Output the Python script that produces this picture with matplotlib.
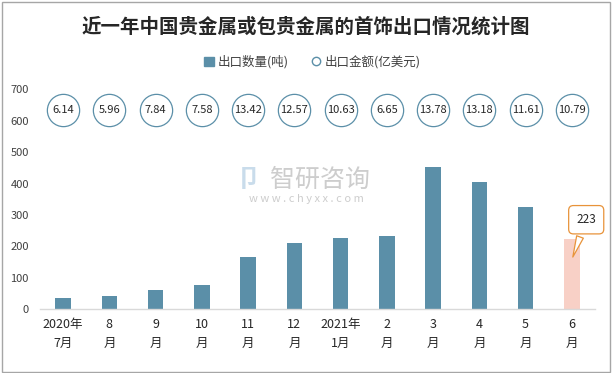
import matplotlib
matplotlib.use("Agg")
import matplotlib.pyplot as plt
from matplotlib.patches import Patch, Rectangle
from matplotlib.lines import Line2D

plt.rcParams['font.family'] = ['Noto Sans CJK SC', 'DejaVu Sans']

title = "近一年中国贵金属或包贵金属的首饰出口情况统计图"
categories = ["2020年\n7月", "8\n月", "9\n月", "10\n月", "11\n月", "12\n月",
              "2021年\n1月", "2\n月", "3\n月", "4\n月", "5\n月", "6\n月"]
export_volume = [36, 42, 62, 77, 167, 211, 227, 233, 453, 405, 326, 223]
export_value = [6.14, 5.96, 7.84, 7.58, 13.42, 12.57, 10.63, 6.65, 13.78, 13.18, 11.61, 10.79]
series_names = ["出口数量(吨)", "出口金额(亿美元)"]
y_ticks = [0, 100, 200, 300, 400, 500, 600, 700]

bar_color = "#5B8FA8"
last_color = "#F8D0C6"
text_color = "#404040"

fig = plt.figure(figsize=(6.12, 3.73), dpi=100)
ax = fig.add_axes([40/612, 1-309.3/373, 555/612, 220/373])

x = list(range(len(categories)))
colors = [bar_color]*(len(x)-1) + [last_color]
ax.bar(x, export_volume, width=0.33, color=colors, zorder=2)

ax.set_xlim(-0.5, len(x)-0.5)
ax.set_ylim(0, 700)
ax.set_yticks(y_ticks)
ax.set_yticklabels([str(v) for v in y_ticks], fontsize=8, color=text_color)
ax.set_xticks(x)
ax.set_xticklabels(categories, fontsize=9, color="#262626", linespacing=1.6)
ax.tick_params(axis='both', length=0)
ax.tick_params(axis='x', pad=6)
ax.tick_params(axis='y', pad=8)
for s in ['top', 'right', 'left']:
    ax.spines[s].set_visible(False)
ax.spines['bottom'].set_color("#D9D9D9")
ax.spines['bottom'].set_linewidth(1)

# value circles
circle_level = 634
ax.scatter(x, [circle_level]*len(x), s=540, facecolors='white',
           edgecolors=bar_color, linewidths=0.9, zorder=3, clip_on=False)
for xi, v in zip(x, export_value):
    ax.text(xi, circle_level, f"{v:.2f}", ha='center', va='center',
            fontsize=8, color="#262626", zorder=4)

# callout for last bar
ax.annotate(str(export_volume[-1]), xy=(x[-1], 158), xytext=(x[-1]+0.31, 285),
            ha='center', va='center', fontsize=8.5, color="#262626",
            bbox=dict(boxstyle="round,pad=0.65,rounding_size=0.4", fc="white", ec="#E8933A", lw=0.9),
            arrowprops=dict(arrowstyle="wedge,tail_width=0.6,shrink_factor=0.5",
                            fc="white", ec="#E8933A", lw=0.9),
            zorder=5, annotation_clip=False)

# watermark
fig.text(320/612, 1-180/373, "智研咨询", ha='center', va='center', fontsize=18,
         color="#CDCDCD")
fig.text(248/612, 1-180/373, "卩", ha='center', va='center', fontsize=18,
         color="#C9DCEB", fontweight='bold')
fig.text(306/612, 1-199/373, "w w w . c h y x x . c o m", ha='center', va='center',
         fontsize=8, color="#CDCDCD")

# title
fig.text(0.5, 1-27/373, title, ha='center', va='center', fontsize=14,
         fontweight='bold', color="#262626")

# legend
handles = [Patch(facecolor=bar_color, edgecolor=bar_color),
           Line2D([0], [0], marker='o', linestyle='none', markerfacecolor='white',
                  markeredgecolor=bar_color, markersize=6)]
fig.legend(handles, series_names, loc='center', bbox_to_anchor=(0.51, 1-62/373),
           ncol=2, frameon=False, fontsize=9, handlelength=0.8, handletextpad=0.3,
           columnspacing=1.8, labelcolor="#404040")

# figure border
fig.patches.append(Rectangle((0.003, 0.004), 0.993, 0.991, transform=fig.transFigure,
                             fill=False, edgecolor="#A6A6A6", linewidth=1))

fig.savefig("out.png", dpi=100)
